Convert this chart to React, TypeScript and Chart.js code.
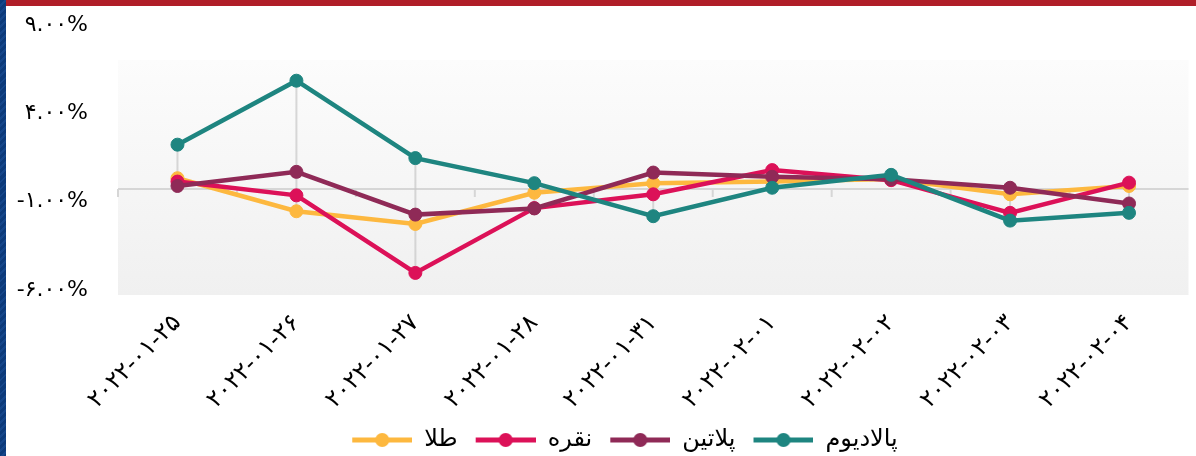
import React, { useEffect, useRef } from 'react';
import { Chart, registerables } from 'chart.js';

Chart.register(...registerables);

const categories = [
  '۲۰۲۲-۰۱-۲۵',
  '۲۰۲۲-۰۱-۲۶',
  '۲۰۲۲-۰۱-۲۷',
  '۲۰۲۲-۰۱-۲۸',
  '۲۰۲۲-۰۱-۳۱',
  '۲۰۲۲-۰۲-۰۱',
  '۲۰۲۲-۰۲-۰۲',
  '۲۰۲۲-۰۲-۰۳',
  '۲۰۲۲-۰۲-۰۴',
];

const seriesNames = ['طلا', 'نقره', 'پلاتین', 'پالادیوم'];
const seriesColors = ['#FDB83F', '#DC1158', '#8F2A57', '#1E8580'];
const drawOrder = [3, 2, 1, 0];

const goldValues = [0.61, -1.26, -1.98, -0.21, 0.33, 0.42, 0.57, -0.3, 0.17];
const silverValues = [0.42, -0.36, -4.75, -1.08, -0.3, 1.07, 0.5, -1.35, 0.36];
const platinumValues = [0.17, 0.97, -1.45, -1.1, 0.93, 0.69, 0.55, 0.07, -0.82];
const palladiumValues = [2.51, 6.13, 1.75, 0.33, -1.54, 0.07, 0.8, -1.79, -1.35];

const yTicks = [-6, -1, 4, 9];
const yMin = -6;
const yMax = 9;

const FONT = "'DejaVu Sans', sans-serif";

const toFa = (s: string) => s.replace(/\d/g, (d) => '۰۱۲۳۴۵۶۷۸۹'[+d]);
const formatPct = (v: number) => toFa(v.toFixed(2)) + '%';

function makeMarker(color: string): HTMLCanvasElement {
  const c = document.createElement('canvas');
  c.width = 66;
  c.height = 16;
  const ctx = c.getContext('2d')!;
  ctx.strokeStyle = color;
  ctx.lineWidth = 5;
  ctx.lineCap = 'butt';
  ctx.beginPath();
  ctx.moveTo(6, 8);
  ctx.lineTo(66, 8);
  ctx.stroke();
  ctx.fillStyle = color;
  ctx.beginPath();
  ctx.arc(36, 8, 7, 0, Math.PI * 2);
  ctx.fill();
  return c;
}

const backgroundPlugin = {
  id: 'plotBackground',
  beforeDraw(chart: any) {
    const { ctx, chartArea } = chart;
    const top = chartArea.top + 30;
    const g = ctx.createLinearGradient(0, top, 0, chartArea.bottom);
    g.addColorStop(0, '#fcfcfc');
    g.addColorStop(1, '#f0f0f0');
    ctx.save();
    ctx.fillStyle = g;
    ctx.fillRect(chartArea.left, top, chartArea.right - chartArea.left, chartArea.bottom - top);
    ctx.restore();
  },
};

const guidePlugin = {
  id: 'guides',
  beforeDatasetsDraw(chart: any) {
    const { ctx, chartArea, scales } = chart;
    const x = scales.x;
    const y = scales.y;
    const y0 = y.getPixelForValue(0);
    const step = x.getPixelForValue(1) - x.getPixelForValue(0);
    ctx.save();
    ctx.strokeStyle = '#d6d6d6';
    ctx.lineWidth = 2;
    ctx.beginPath();
    ctx.moveTo(chartArea.left, y0);
    ctx.lineTo(chartArea.right, y0);
    ctx.stroke();
    const n = categories.length;
    for (let i = 0; i < n; i++) {
      const px = x.getPixelForValue(i) - step / 2;
      ctx.beginPath();
      ctx.moveTo(px, y0);
      ctx.lineTo(px, y0 + 8);
      ctx.stroke();
    }
    ctx.strokeStyle = 'rgba(200,200,200,0.7)';
    for (let i = 0; i < n; i++) {
      const vals = chart.data.datasets.map((d: any) => d.data[i] as number);
      const mx = Math.max(...vals);
      const mn = Math.min(...vals);
      const px = x.getPixelForValue(i);
      ctx.beginPath();
      ctx.moveTo(px, y.getPixelForValue(mx));
      ctx.lineTo(px, y.getPixelForValue(mn));
      ctx.stroke();
    }
    ctx.restore();
  },
};

const yLabelPlugin = {
  id: 'yLabels',
  afterDraw(chart: any) {
    const { ctx, chartArea, scales } = chart;
    const y = scales.y;
    ctx.save();
    ctx.fillStyle = '#000';
    ctx.font = `22px ${FONT}`;
    ctx.textAlign = 'right';
    ctx.textBaseline = 'middle';
    yTicks.forEach((v) => {
      ctx.fillText(formatPct(v), chartArea.left - 30, y.getPixelForValue(v) - 5);
    });
    ctx.restore();
  },
};

export default function App() {
  const ref = useRef<HTMLCanvasElement | null>(null);

  useEffect(() => {
    if (!ref.current) return;
    const allValues = [goldValues, silverValues, platinumValues, palladiumValues];
    const markers = seriesColors.map(makeMarker);
    const chart = new Chart(ref.current, {
      type: 'line',
      data: {
        labels: categories,
        datasets: allValues.map((vals, i) => ({
          label: seriesNames[i],
          data: vals,
          borderColor: seriesColors[i],
          backgroundColor: seriesColors[i],
          pointBackgroundColor: seriesColors[i],
          pointBorderColor: seriesColors[i],
          borderWidth: 4.5,
          pointRadius: 6.5,
          pointBorderWidth: 1,
          tension: 0,
          fill: false,
          order: drawOrder[i],
        })),
      },
      options: {
        responsive: false,
        animation: false,
        devicePixelRatio: 1,
        layout: { padding: { left: 48, right: 0, top: 30, bottom: -6 } },
        scales: {
          x: {
            offset: true,
            grid: { display: false, drawTicks: false },
            border: { display: false },
            ticks: {
              autoSkip: false,
              minRotation: 45,
              maxRotation: 45,
              padding: 14,
              color: '#000',
              font: { family: FONT, size: 24 },
            },
            afterFit: (s: any) => {
              s.height = 121;
            },
          },
          y: {
            min: yMin,
            max: yMax,
            grid: { display: false, drawTicks: false },
            border: { display: false },
            afterBuildTicks: (s: any) => {
              s.ticks = yTicks.map((v) => ({ value: v }));
            },
            ticks: { display: false },
            afterFit: (s: any) => {
              s.width = 70;
            },
          },
        },
        plugins: {
          legend: {
            position: 'bottom',
            labels: {
              usePointStyle: true,
              pointStyleWidth: 66,
              padding: 12,
              color: '#000',
              font: { family: FONT, size: 24 },
              generateLabels: (c: any) =>
                c.data.datasets.map((d: any, i: number) => ({
                  text: d.label,
                  fillStyle: seriesColors[i],
                  strokeStyle: seriesColors[i],
                  fontColor: '#000',
                  lineWidth: 0,
                  pointStyle: markers[i],
                  hidden: false,
                  datasetIndex: i,
                })),
              sort: (a: any, b: any) => a.datasetIndex - b.datasetIndex,
            },
          },
          tooltip: { enabled: false },
        },
      },
      plugins: [backgroundPlugin, guidePlugin, yLabelPlugin],
    });
    return () => chart.destroy();
  }, []);

  return (
    <div style={{ position: 'fixed', left: 0, top: 0, width: 1196, height: 456, background: '#fff' }}>
      <canvas ref={ref} width={1196} height={456} style={{ position: 'absolute', left: 0, top: 0 }} />
      <div
        style={{
          position: 'absolute',
          left: 0,
          top: 0,
          width: 6,
          height: 456,
          background: 'repeating-linear-gradient(135deg, #0c3a7a 0px, #0c3a7a 3px, #15468a 3px, #15468a 5px)',
        }}
      />
      <div style={{ position: 'absolute', left: 6, top: 0, width: 1190, height: 6, background: '#b01e28' }} />
    </div>
  );
}
